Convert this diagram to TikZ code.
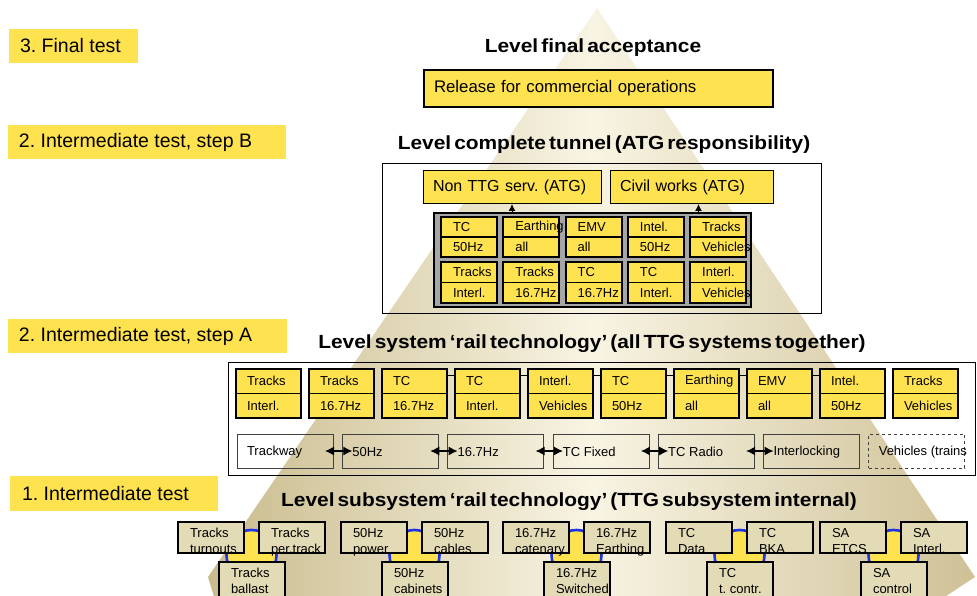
\documentclass[tikz,border=0pt]{standalone}
\usepackage{fontspec}
\setmainfont{Liberation Sans}
\newfontfamily\widefont{Liberation Sans}[FakeStretch=1.1]
\usetikzlibrary{arrows.meta,shapes.geometric}
\definecolor{yel}{HTML}{FFE24F}
\definecolor{sand}{HTML}{E3DAB6}
\definecolor{pyl}{HTML}{C9BB8C}
\definecolor{pym}{HTML}{F8F4E3}
\definecolor{pyrc}{HTML}{CFC196}
\definecolor{blu}{HTML}{1E32E6}
\definecolor{panelgray}{HTML}{A6A6A6}
\pgfdeclarelayer{pyramid}
\pgfdeclarelayer{behind}
\pgfsetlayers{pyramid,behind,main}
\frenchspacing
\newcommand\tworow[7]{%
  \node[#1, minimum height=#5] (#2t) at (#3,#4) {#6};
  \node[#1, minimum height=#5] (#2b) at (#2t.south west) {#7};
}
\newcommand\subbox[6]{%
  \node[subb, minimum height=#4] (#1) at (#2,#3) {};
  \node[small, anchor=base west] (#1x) at (#2+12,#3+15) {#5};
  \node[small, anchor=base west] (#1y) at (#2+12,#3+31) {#6};
  \draw[line width=1.5] (#1.north west) rectangle (#1.south east);
}
\newcommand\subgrp[9]{%
  \node[blob] (#1c) at (#2+73.5,555) {};
  \subbox{#1a}{#2}{522}{31}{#3}{#4}
  \subbox{#1b}{#2+81}{522}{31}{#5}{#6}
  \subbox{#1d}{#2+41}{562}{38}{#7}{#8}
}
\newcommand\testlabel[7]{% name x y w h xsep text
  \node[lbl, minimum width=#4, minimum height=#5] (#1) at (#2,#3) {};
  \node[lbltext, anchor=west] (#1t) at ([xshift=#6]#1.west) {#7};
}
\begin{document}
\begin{tikzpicture}[x=1pt,y=-1pt,
  every node/.style={inner sep=0pt, outer sep=0pt},
  small/.style={font=\fontsize{13}{15}\selectfont},
  lbl/.style={fill=yel, anchor=north west},
  lbltext/.style={font={\fontsize{19.5}{22}\selectfont\frenchspacing}},
  ttl/.style={font={\widefont\fontsize{19}{22}\selectfont\bfseries\spaceskip=0.16em plus 0.05em\relax}},
  cellA/.style={draw, line width=1.8, fill=yel, minimum width=65, text width=43, inner xsep=11, align=left, anchor=north west, small},
  cellB/.style={draw, line width=1.8, fill=yel, minimum width=56, text width=32, inner xsep=12, align=left, anchor=north west, small},
  wbox/.style={draw=black!75, line width=0.8, minimum width=96, minimum height=34, anchor=north west},
  subb/.style={fill=sand, minimum width=66, anchor=north west},
  blob/.style={circle, fill=yel, draw=blu, line width=2.6, minimum size=50},
  ybox/.style={draw, fill=yel, anchor=north west, align=left, inner xsep=10},
  arr/.style={{Latex[length=9pt,width=9pt]}-{Latex[length=9pt,width=9pt]}, line width=1.1},
  uparr/.style={-{Latex[length=7pt,width=7pt]}, line width=1}
]
\useasboundingbox (0,0) rectangle (977,596);

% pyramid
\begin{pgfonlayer}{pyramid}
\shade[left color=pyl, right color=pyrc, middle color=pym]
  (597,8) -- (975,577) -- (940,600) -- (215,600) -- (208,577) -- cycle;
\end{pgfonlayer}

% left labels
\testlabel{l3}{9}{29}{129}{34}{11}{3. Final test}
\testlabel{lB}{8}{125}{278}{34}{11}{2. Intermediate test, step B}
\testlabel{lA}{8}{319}{279}{34}{11}{2. Intermediate test, step A}
\testlabel{l1}{10}{476}{208}{35}{12}{1. Intermediate test}

% final level
\node[ttl] (tF) at (593,48) {Level final acceptance};
\node[ybox, line width=1.4, minimum width=349, minimum height=37, text width=329, font=\fontsize{16.8}{19}\selectfont] (rel) at (424,70) {Release for commercial operations};

% step B
\node[ttl] (tB) at (604,145) {Level complete tunnel (ATG responsibility)};
\node[draw, line width=1, minimum width=439, minimum height=149, anchor=north west] (stepB) at (382,164) {};
\node[ybox, line width=1, minimum width=178, minimum height=33, text width=158, font=\fontsize{16}{18}\selectfont] (nonttg) at (423,171) {Non TTG serv. (ATG)};
\node[ybox, line width=1, minimum width=163, minimum height=33, text width=143, font=\fontsize{16}{18}\selectfont] (civil) at (610,171) {Civil works (ATG)};
\node[draw, line width=1.5, fill=panelgray, minimum width=317, minimum height=94, anchor=north west] (panel) at (434,213) {};
\draw[uparr] (nonttg.south |- panel.north) -- (nonttg.south);
\draw[uparr] ([xshift=7]civil.south |- panel.north) -- ([xshift=7]civil.south);
\foreach \i/\a/\b in {0/TC/50Hz,1/Earthing/all,2/EMV/all,3/Intel./50Hz,4/Tracks/Vehicles}
  {\tworow{cellB}{p\i}{441+62.3*\i}{217}{20}{\a}{\b}}
\foreach \i/\a/\b in {0/Tracks/Interl.,1/Tracks/16.7Hz,2/TC/16.7Hz,3/TC/Interl.,4/Interl./Vehicles}
  {\tworow{cellB}{q\i}{441+62.3*\i}{262}{20.5}{\a}{\b}}

% step A
\node[ttl] (tA) at (592,344) {Level system ‘rail technology’ (all TTG systems together)};
\node[draw, line width=1, minimum width=747, minimum height=113, anchor=north west] (stepA) at (228,362) {};
\foreach \i/\a/\b in {0/Tracks/Interl.,1/Tracks/16.7Hz,2/TC/16.7Hz,3/TC/Interl.,4/Interl./Vehicles,5/TC/50Hz,6/Earthing/all,7/EMV/all,8/Intel./50Hz,9/Tracks/Vehicles}
  {\tworow{cellA}{s\i}{236+73*\i}{369}{24.5}{\a}{\b}}
\begin{pgfonlayer}{behind}
\draw[line width=0.6] ([yshift=6]s2t.east) -- ([yshift=6]s8t.west);
\end{pgfonlayer}
\foreach \i/\t in {0/Trackway,1/50Hz,2/16.7Hz,3/TC Fixed,4/TC Radio,5/Interlocking}
  {\node[wbox] (w\i) at (237+105.3*\i,434) {};
   \node[small, anchor=west] (wt\i) at ([xshift=10,yshift=-1]w\i.west) {\t};}
\node[wbox, dashed] (w6) at (868.8,434) {};
\node[small, anchor=west] (wt6) at ([xshift=10,yshift=-1]w6.west) {Vehicles (trains};
\foreach \i [count=\j from 1] in {0,...,4}
  {\draw[arr] ([xshift=-8]w\i.east) -- ([xshift=10]w\j.west);}

% subsystem level
\node[ttl] (tS) at (569,502) {Level subsystem ‘rail technology’ (TTG subsystem internal)};
\subgrp{g1}{178}{Tracks}{turnouts}{Tracks}{per.track}{Tracks}{ballast}{}
\subgrp{g2}{341}{50Hz}{power}{50Hz}{cables}{50Hz}{cabinets}{}
\subgrp{g3}{503}{16.7Hz}{catenary}{16.7Hz}{Earthing}{16.7Hz}{Switched.}{}
\subgrp{g4}{666}{TC}{Data}{TC}{BKA}{TC}{t. contr.}{}
\subgrp{g5}{820}{SA}{ETCS}{SA}{Interl.}{SA}{control}{}
\end{tikzpicture}
\end{document}
